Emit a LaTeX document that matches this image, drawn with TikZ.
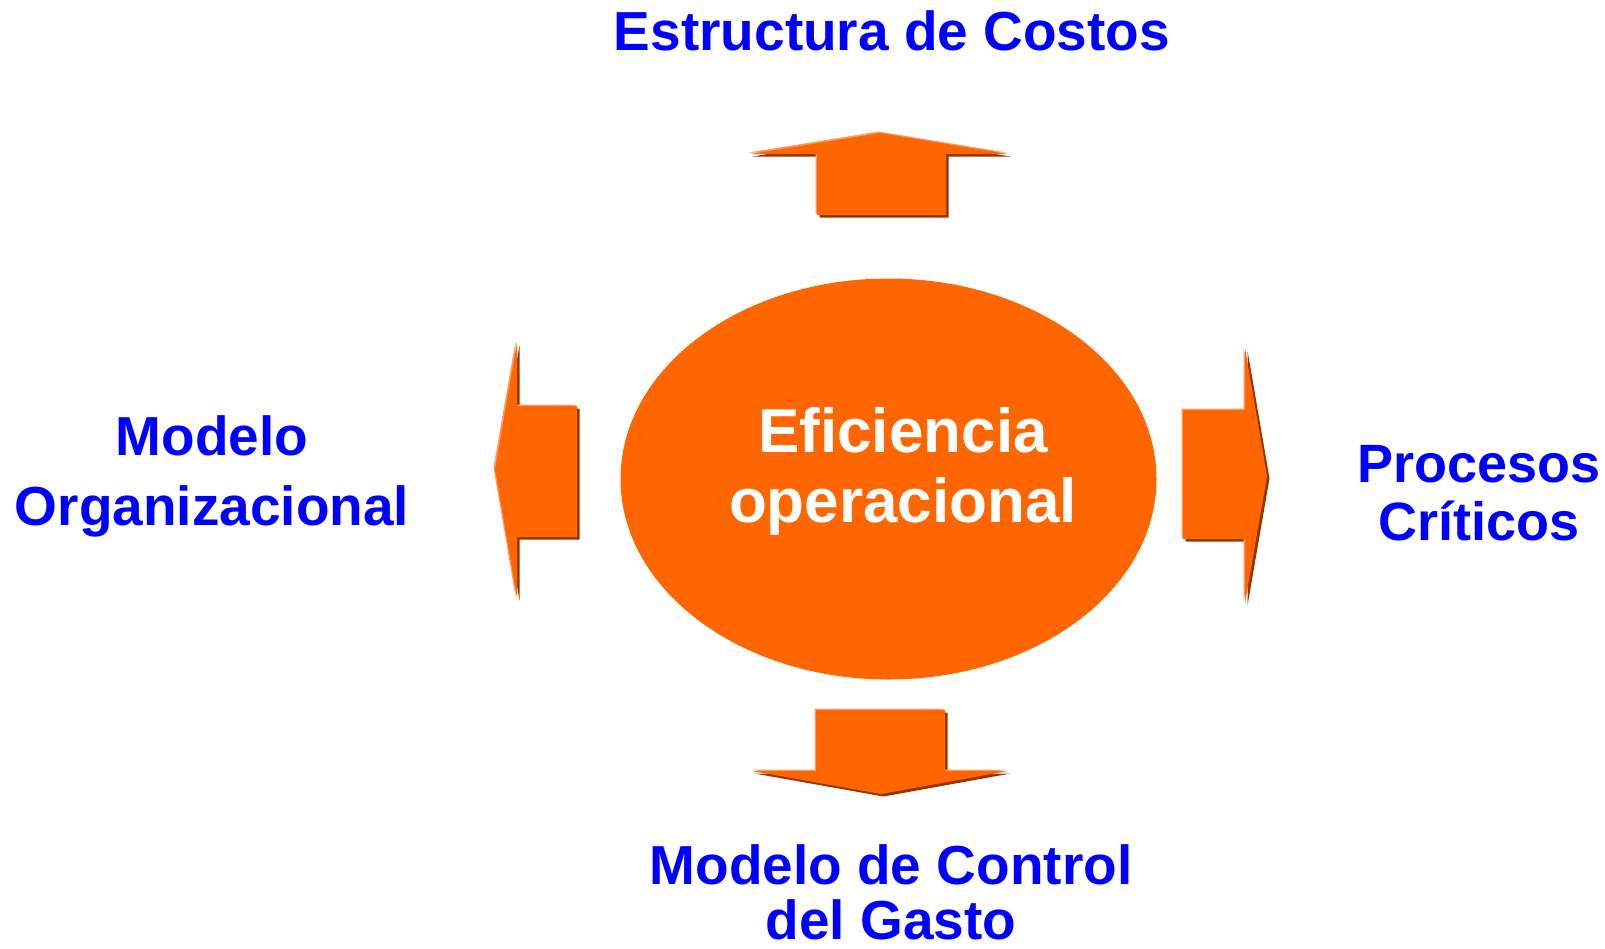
\documentclass[tikz,border=0pt]{standalone}
\usepackage{fontspec}
\setmainfont{Liberation Sans}
\usetikzlibrary{shapes.geometric,positioning}

\definecolor{naranja}{HTML}{FF6600}
\definecolor{sombra}{HTML}{993300}
\definecolor{brillo}{HTML}{FF9966}
\definecolor{azul}{HTML}{0000FF}

% flecha con relieve: sombra, brillo y relleno
\newcommand{\flecha}[1]{%
  \fill[sombra,shift={(2.5,2.5)}] #1;
  \fill[brillo,shift={(-1.5,-1.5)}] #1;
  \fill[naranja] #1;}

\begin{document}
\begin{tikzpicture}[x=1pt,y=-1pt,
    etiqueta/.style={font=\bfseries\fontsize{55}{58}\selectfont,text=azul,align=center,inner sep=0pt,anchor=base}]
	\useasboundingbox (0,0) rectangle (1605,948);

	\node[ellipse,fill=naranja,minimum width=536pt,minimum height=401pt,inner sep=0pt] (1) at (888.5,479) {};
	\node[etiqueta,text=white,font=\bfseries\fontsize{62}{70}\selectfont] (2) at (903,522) {Eficiencia\\operacional};

	% arriba
	\flecha{(880,133) -- (1008,154) -- (946,154) -- (946,215) -- (817,215) -- (817,154) -- (750,154) -- cycle}
	% izquierda
	\flecha{(495,469) -- (517,343) -- (517,406) -- (577,406) -- (577,537) -- (517,537) -- (517,598) -- cycle}
	% derecha
	\flecha{(1267,476) -- (1245,348) -- (1245,410) -- (1183,410) -- (1183,539) -- (1245,539) -- (1245,603) -- cycle}
	% abajo
	\flecha{(881,794) -- (1008,771) -- (945,771) -- (945,710) -- (816,710) -- (816,771) -- (752,771) -- cycle}

	\node[etiqueta] (3) at (892,50) {Estructura de Costos};
	\node[etiqueta,font=\bfseries\fontsize{55}{70}\selectfont] (4) at (212,525) {Modelo\\Organizacional};
	\node[etiqueta,font=\bfseries\fontsize{54}{58}\selectfont] (5) at (1479,540) {Procesos\\Críticos};
	\node[etiqueta,font=\bfseries\fontsize{55}{55}\selectfont] (6) at (891,939) {Modelo de Control\\del Gasto};
\end{tikzpicture}
\end{document}
